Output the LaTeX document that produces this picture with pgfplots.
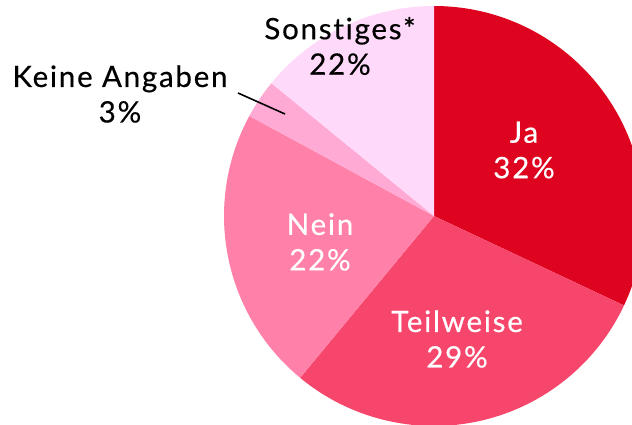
\documentclass[border=0pt]{standalone}
\usepackage{pgfplots}
\pgfplotsset{compat=1.18}
\usepackage{fontspec}
\setmainfont[LetterSpace=6, Ligatures=NoCommon, FakeBold=0.4]{Lato}
\definecolor{cJa}{HTML}{DE0420}
\definecolor{cTeil}{HTML}{F6466B}
\definecolor{cNein}{HTML}{FF80A8}
\definecolor{cKeine}{HTML}{FFAAD4}
\definecolor{cSonst}{HTML}{FFD9FA}
\begin{document}
\begin{tikzpicture}
\begin{axis}[
  x=1pt, y=1pt,
  xmin=0, xmax=632, ymin=0, ymax=424,
  hide axis, clip=true,
]
\path (axis cs:0,0) rectangle (axis cs:632,424);
% slice shares (percent of the full circle, as drawn)
\gdef\cumval{0}
\foreach \sval/\scol in {32.0/cJa, 29.0/cTeil, 21.9/cNein, 3.0/cKeine, 14.1/cSonst}{
  \pgfmathsetmacro\angA{90-3.6*\cumval}
  \pgfmathsetmacro\angB{\angA-3.6*\sval}
  \edef\temp{\noexpand\fill[\scol] (axis cs:434,208) -- ++(\angA:210pt) arc[start angle=\angA, end angle=\angB, radius=210pt] -- cycle;}
  \temp
  \pgfmathsetmacro\newcum{\cumval+\sval}
  \xdef\cumval{\newcum}
}
\draw[black, line width=1.6pt] (axis cs:238,331) -- (axis cs:285,310);
\tikzset{lab/.style={align=center, font=\fontsize{29.5}{35.5}\selectfont, inner sep=0pt}}
\node[lab, white] at (axis cs:524,274) {Ja\\32\%};
\node[lab, white] at (axis cs:457,85) {Teilweise\\29\%};
\node[lab, white] at (axis cs:320,182) {Nein\\22\%};
\node[lab, black] at (axis cs:340,378) {Sonstiges*\\22\%};
\node[lab, black] at (axis cs:120,330) {Keine Angaben\\3\%};
\end{axis}
\end{tikzpicture}
\end{document}
